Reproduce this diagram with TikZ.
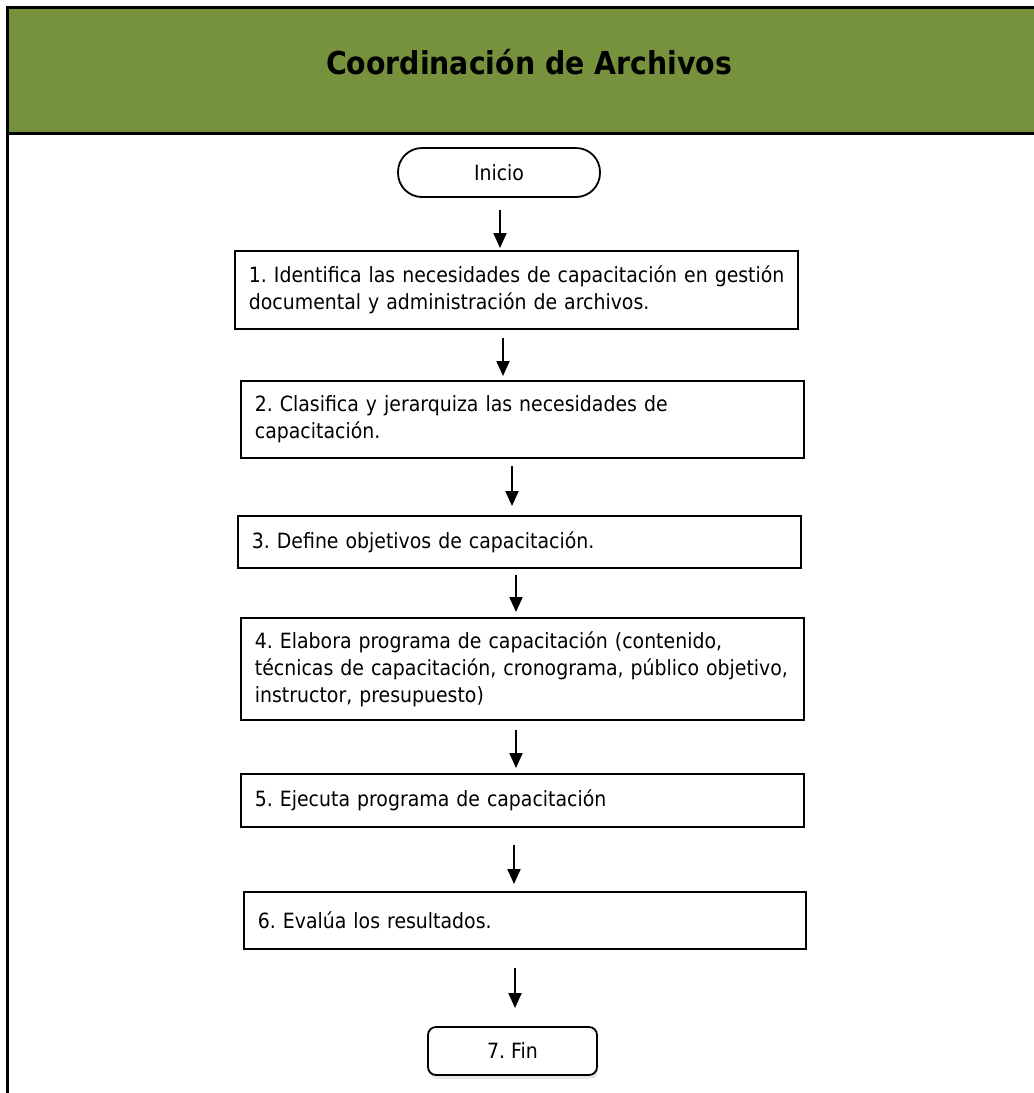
\documentclass[tikz,border=0pt]{standalone}
\usepackage{fontspec}
\setmainfont[FakeStretch=0.9]{DejaVu Sans}
\usetikzlibrary{arrows.meta,shadows}
\definecolor{headgreen}{HTML}{76923C}
\tikzset{
  frame/.style={line width=3pt, draw=black},
  stepbox/.style={draw=black, line width=1.8pt, rectangle, inner xsep=14pt,
    align=left, font=\fontsize{21}{27}\selectfont, anchor=north west},
  terminal/.style={draw=black, line width=1.8pt, fill=white,
    font=\fontsize{21}{27}\selectfont},
  arr/.style={line width=2pt, -{Triangle[width=13pt,length=15pt]}}
}
\newcommand{\stepnode}[6]{% name, left, top, width, height, text
  \node[stepbox, minimum width=#4pt, minimum height=#5pt, text width=#4pt-28pt]
    (#1) at (#2,#3) {#6};}
\begin{document}
\frenchspacing
\begin{tikzpicture}[x=1pt,y=-1pt]
  \useasboundingbox (0,0) rectangle (1034,1093);
  % header band and outer frame
  \fill[headgreen] (7,7) rectangle (1034,133);
  \draw[frame] (1034,7) -- (7,7) -- (7,1093);
  \draw[frame] (7,133) -- (1034,133);
  \node[font=\fontsize{31.5}{36}\bfseries\selectfont] (title) at (529,62) {Coordinación de Archivos};

  % start / end terminals
  \node[terminal, minimum width=202pt, minimum height=49pt, rounded corners=24pt]
    (ini) at (499,172.5) {Inicio};
  \node[terminal, minimum width=169pt, minimum height=48pt, rounded corners=8pt,
    drop shadow={opacity=0.18, shadow xshift=1pt, shadow yshift=-4pt}]
    (fin) at (512.5,1051) {7. Fin};

  % process steps (explicit line breaks, wide text area)
  \stepnode{s1}{234}{250}{563}{78}{\makebox[0pt][l]{1. Identifica las necesidades de capacitación en gestión}\\documental y administración de archivos.}
  \stepnode{s2}{240}{380}{563}{77}{2. Clasifica y jerarquiza las necesidades de\\capacitación.}
  \stepnode{s3}{237}{515}{563}{52}{3. Define objetivos de capacitación.}
  \stepnode{s4}{240}{617}{563}{102}{4. Elabora programa de capacitación (contenido,\\\makebox[0pt][l]{técnicas de capacitación, cronograma, público objetivo,}\\instructor, presupuesto)}
  \stepnode{s5}{240}{773}{563}{53}{5. Ejecuta programa de capacitación}
  \stepnode{s6}{243}{891}{562}{57}{6. Evalúa los resultados.}

  % free-standing flow arrows between the shapes
  \coordinate (a1s) at (500,210);  \coordinate (a1e) at (500,248);
  \coordinate (a2s) at (503,338);  \coordinate (a2e) at (503,376);
  \coordinate (a3s) at (512,466);  \coordinate (a3e) at (512,506);
  \coordinate (a4s) at (516,575);  \coordinate (a4e) at (516,612);
  \coordinate (a5s) at (516,730);  \coordinate (a5e) at (516,768);
  \coordinate (a6s) at (514,845);  \coordinate (a6e) at (514,884);
  \coordinate (a7s) at (515,968);  \coordinate (a7e) at (515,1008);
  \foreach \i in {1,...,7} { \draw[arr] (a\i s) -- (a\i e); }
\end{tikzpicture}
\end{document}
